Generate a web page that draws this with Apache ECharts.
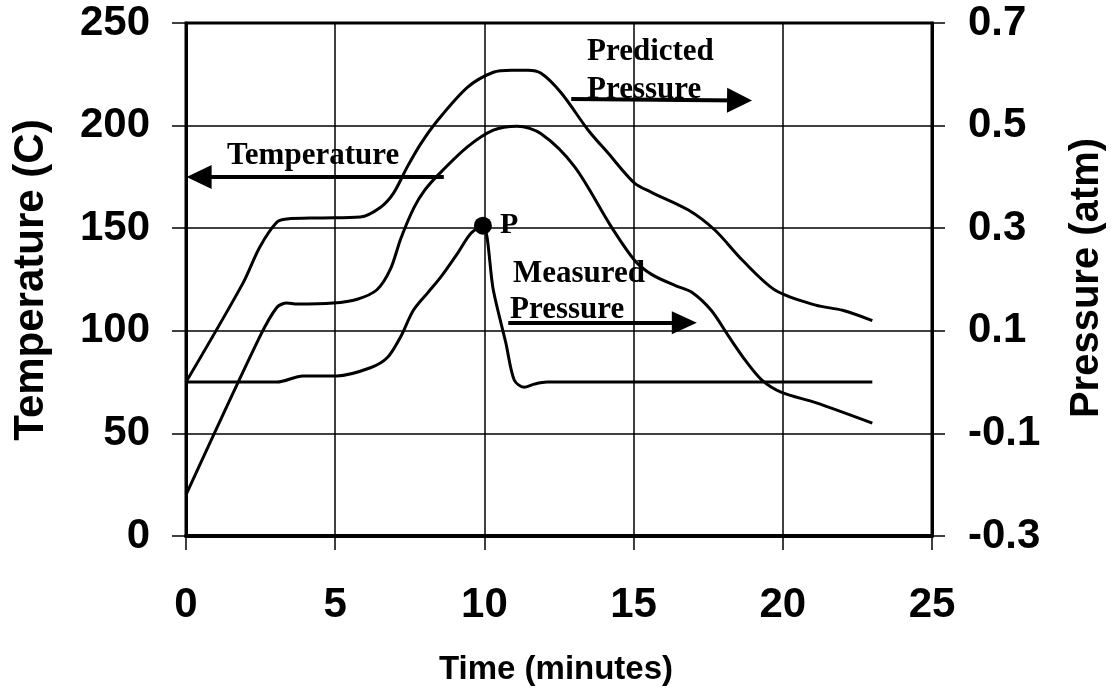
<!DOCTYPE html>
<html>
<head>
<meta charset="utf-8">
<script src="https://cdn.jsdelivr.net/npm/echarts@6/dist/echarts.min.js"></script>
<style>
  html, body { margin: 0; padding: 0; background: #fff; }
  #chart { width: 1117px; height: 692px; }
</style>
</head>
<body>
<div id="chart"></div>
<script>
// ---- data ----
const timeTicks = [0, 5, 10, 15, 20, 25];
const tempTicks = [0, 50, 100, 150, 200, 250];
const pressureTicks = [-0.3, -0.1, 0.1, 0.3, 0.5, 0.7];

// Temperature (C), left axis
const tempTime = [0, 2.47, 3.05, 3.38, 3.72, 4.93, 5.74, 6.4, 6.85, 7.2, 7.64, 8.0, 8.42, 9.43, 10.3, 11.1, 11.9, 13.02, 14.26, 15.03, 15.6, 16.4, 16.95, 17.6, 18.2, 18.74, 19.3, 19.96, 21.1, 23];
const temperature = [20, 97, 111.5, 113.5, 113, 113.5, 115.4, 120, 130, 145, 160, 168.5, 175.5, 189.6, 197.8, 199.7, 196, 180, 150.5, 134.4, 127.5, 122, 118.8, 110, 97, 85.7, 76, 70, 65, 55];

// Predicted pressure (atm), right axis
const predTime = [0, 1.9, 2.47, 3.05, 3.38, 4.5, 5.84, 6.5, 6.95, 7.42, 7.86, 8.43, 9.44, 10.3, 10.9, 11.46, 11.9, 12.57, 13.48, 14.15, 15.03, 15.6, 16.85, 17.73, 18.64, 19.75, 21.1, 22, 23];
const predictedPressure = [0, 0.192, 0.263, 0.312, 0.318, 0.32, 0.322, 0.34, 0.368, 0.42, 0.464, 0.51, 0.575, 0.604, 0.608, 0.608, 0.602, 0.564, 0.491, 0.446, 0.388, 0.37, 0.335, 0.296, 0.238, 0.179, 0.15, 0.14, 0.12];

// Measured pressure (atm), right axis
const measTime = [0, 3.05, 3.92, 5.06, 6.18, 6.75, 7.19, 7.62, 8.1, 8.53, 9.1, 9.55, 9.95, 10.3, 10.72, 11.0, 11.33, 11.67, 12.1, 23];
const measuredPressure = [0, 0, 0.012, 0.012, 0.028, 0.048, 0.088, 0.14, 0.174, 0.204, 0.251, 0.29, 0.305, 0.179, 0.076, 0.004, -0.01, -0.004, 0, 0];

// Point P (peak of measured pressure)
const pointP = [9.95, 0.305];

// Annotation arrows, in data coordinates [time, value]
const tempArrow = [[8.64, 175], [0.44, 175]];
const predArrow = [[12.91, 0.552], [18.55, 0.549]];
const measArrow = [[10.8, 0.1156], [16.7, 0.1156]];

// ---- chart ----
const zip = (xs, ys) => xs.map((x, i) => [x, ys[i]]);
const SANS = '"Liberation Sans", Arial, sans-serif';
const SERIF = '"Liberation Serif", "Times New Roman", serif';
const tickLabel = { fontSize: 42, fontWeight: 'bold', fontFamily: SANS, color: '#000' };

function arrow(coords, size) {
  return {
    silent: true,
    symbol: ['none', 'triangle'],
    symbolSize: size,
    label: { show: false },
    lineStyle: { color: '#000', width: 4, type: 'solid', opacity: 1 },
    itemStyle: { color: '#000', opacity: 1 },
    emphasis: { disabled: true },
    data: [[{ coord: coords[0] }, { coord: coords[1] }]]
  };
}

const lineBase = {
  type: 'line',
  showSymbol: false,
  symbol: 'none',
  smooth: 0.3,
  lineStyle: { color: '#000', width: 3 },
  itemStyle: { color: '#000' },
  silent: true
};

const option = {
  animation: false,
  backgroundColor: '#fff',
  grid: { left: 186, right: 185, top: 23, bottom: 156, show: true, borderColor: '#000', borderWidth: 3 },
  xAxis: {
    type: 'value', min: 0, max: 25, interval: 5,
    axisLine: { lineStyle: { color: '#000', width: 4 } },
    axisTick: { show: true, length: 14, lineStyle: { color: '#000', width: 1.5 } },
    axisLabel: Object.assign({ margin: 48 }, tickLabel),
    splitLine: { show: true, lineStyle: { color: '#000', width: 1.5 } }
  },
  yAxis: [
    {
      type: 'value', min: 0, max: 250, interval: 50, position: 'left',
      axisLine: { show: true, lineStyle: { color: '#000', width: 3 } },
      axisTick: { show: true, length: 14, lineStyle: { color: '#000', width: 1.5 } },
      axisLabel: Object.assign({ margin: 36 }, tickLabel),
      splitLine: { show: true, lineStyle: { color: '#000', width: 1.5 } }
    },
    {
      type: 'value', min: -0.3, max: 0.7, position: 'right',
      axisLine: { show: true, lineStyle: { color: '#000', width: 3 } },
      axisTick: { show: true, length: 13, customValues: pressureTicks, lineStyle: { color: '#000', width: 1.5 } },
      axisLabel: Object.assign({ margin: 36, customValues: pressureTicks, formatter: v => v.toFixed(1) }, tickLabel),
      splitLine: { show: false }
    }
  ],
  series: [
    Object.assign({}, lineBase, {
      name: 'Temperature', yAxisIndex: 0, data: zip(tempTime, temperature),
      markLine: arrow(tempArrow, [24, 25])
    }),
    Object.assign({}, lineBase, {
      name: 'Predicted Pressure', yAxisIndex: 1, data: zip(predTime, predictedPressure),
      markLine: arrow(predArrow, [25, 25])
    }),
    Object.assign({}, lineBase, {
      name: 'Measured Pressure', yAxisIndex: 1, data: zip(measTime, measuredPressure),
      markLine: arrow(measArrow, [23, 25])
    }),
    {
      type: 'scatter', name: 'P', yAxisIndex: 1, silent: true, z: 5,
      data: [pointP], symbol: 'circle', symbolSize: 18,
      itemStyle: { color: '#000', opacity: 1 },
      label: { show: true, position: 'right', distance: 8, formatter: 'P', fontSize: 30, fontWeight: 'bold', fontFamily: SERIF, color: '#000', opacity: 1 }
    }
  ],
  graphic: [
    { type: 'text', x: 31, y: 280, rotation: Math.PI / 2, style: { text: 'Temperature (C)', font: 'bold 42px ' + SANS, textAlign: 'center', textVerticalAlign: 'middle', fill: '#000' } },
    { type: 'text', x: 1087, y: 278, rotation: Math.PI / 2, style: { text: 'Pressure (atm)', font: 'bold 40px ' + SANS, textAlign: 'center', textVerticalAlign: 'middle', fill: '#000' } },
    { type: 'text', x: 556, y: 670, style: { text: 'Time (minutes)', font: 'bold 33px ' + SANS, textAlign: 'center', textVerticalAlign: 'middle', fill: '#000' } },
    { type: 'text', x: 227, y: 156, style: { text: 'Temperature', font: 'bold 31px ' + SERIF, textAlign: 'left', textVerticalAlign: 'middle', fill: '#000' } },
    { type: 'text', x: 587, y: 52, style: { text: 'Predicted', font: 'bold 31px ' + SERIF, textAlign: 'left', textVerticalAlign: 'middle', fill: '#000' } },
    { type: 'text', x: 587, y: 90, style: { text: 'Pressure', font: 'bold 31px ' + SERIF, textAlign: 'left', textVerticalAlign: 'middle', fill: '#000' } },
    { type: 'text', x: 513, y: 274, style: { text: 'Measured', font: 'bold 31px ' + SERIF, textAlign: 'left', textVerticalAlign: 'middle', fill: '#000' } },
    { type: 'text', x: 510, y: 310, style: { text: 'Pressure', font: 'bold 31px ' + SERIF, textAlign: 'left', textVerticalAlign: 'middle', fill: '#000' } }
  ]
};

const chart = echarts.init(document.getElementById('chart'), null, { renderer: 'canvas' });
chart.setOption(option);
</script>
</body>
</html>
